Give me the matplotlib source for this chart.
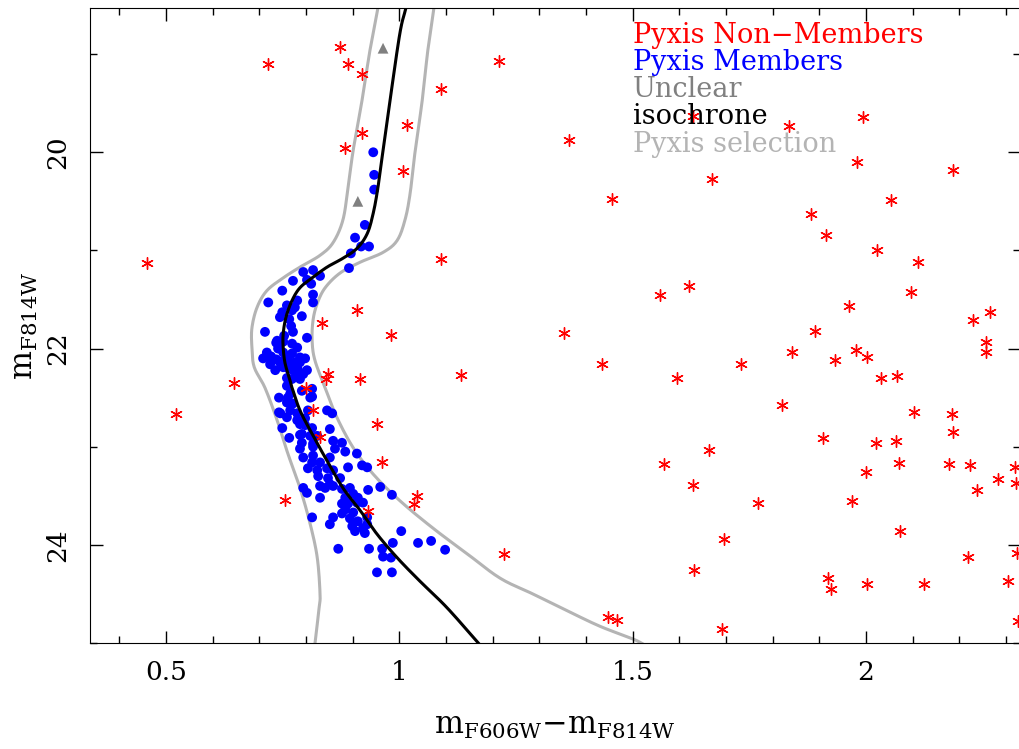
import numpy as np
import matplotlib
matplotlib.use("Agg")
import matplotlib.pyplot as plt
from matplotlib.ticker import MultipleLocator

plt.rcParams['font.family'] = ['DejaVu Serif']
plt.rcParams['mathtext.fontset'] = 'dejavuserif'

# Pyxis members (colour, magnitude)
mem_color = [0.944, 0.946, 0.946, 0.926, 0.905, 0.918, 0.935, 0.896, 0.892,
             0.794, 0.815, 0.830, 0.772, 0.802, 0.811, 0.749, 0.815, 0.719, 0.781,
             0.815, 0.759, 0.776, 0.770, 0.749, 0.791, 0.744, 0.764, 0.768, 0.712,
             0.772, 0.753, 0.802, 0.736, 0.751, 0.770, 0.740, 0.781, 0.716, 0.751,
             0.770, 0.725, 0.787, 0.708, 0.736, 0.749, 0.798, 0.723, 0.766, 0.781,
             0.744, 0.787, 0.734, 0.751, 0.772, 0.794, 0.759, 0.783, 0.759, 0.791,
             0.813, 0.742, 0.766, 0.813, 0.759, 0.772, 0.742, 0.766, 0.781, 0.845,
             0.856, 0.759, 0.781, 0.798, 0.798, 0.749, 0.813, 0.851, 0.787, 0.809,
             0.824, 0.764, 0.791, 0.815, 0.858, 0.877, 0.787, 0.815, 0.862, 0.884,
             0.909, 0.794, 0.815, 0.851,
             0.813, 0.830, 0.804, 0.824, 0.845, 0.858, 0.890, 0.920, 0.931, 0.826,
             0.847, 0.873, 0.851, 0.830, 0.858, 0.794, 0.802, 0.841, 0.877, 0.894,
             0.933, 0.830, 0.884, 0.901, 0.911, 0.877, 0.890, 0.909, 0.884, 0.877,
             0.901, 0.813, 0.858, 0.894, 0.851, 0.911, 0.922,
             0.922, 0.931, 0.899, 0.905, 0.926, 0.931, 0.984, 0.959, 1.004, 0.986,
             1.040, 1.068, 1.098, 0.869, 0.935, 0.963, 0.965, 0.982, 0.952, 0.984,
             0.738, 0.723, 0.761, 0.776, 0.802, 0.783, 0.761, 0.770, 0.787, 0.761,
             0.809, 0.745, 0.804, 0.787, 0.791]
mem_mag = [20.00, 20.23, 20.38, 20.74, 20.87, 20.96, 20.96, 21.03, 21.18,
           21.22, 21.20, 21.26, 21.31, 21.30, 21.34, 21.41, 21.45, 21.53, 21.51,
           21.53, 21.56, 21.58, 21.61, 21.63, 21.67, 21.68, 21.70, 21.77, 21.83,
           21.83, 21.87, 21.89, 21.94, 21.93, 21.95, 22.00, 21.99, 22.04, 22.04,
           22.05, 22.08, 22.09, 22.10, 22.11, 22.13, 22.10, 22.16, 22.16, 22.19,
           22.14, 22.14, 22.22, 22.19, 22.22, 22.26, 22.30, 22.28, 22.38, 22.43,
           22.41, 22.50, 22.46, 22.49, 22.55, 22.56, 22.65, 22.63, 22.66, 22.63,
           22.66, 22.70, 22.73, 22.71, 22.78, 22.81, 22.81, 22.82, 22.88, 22.89,
           22.89, 22.91, 22.96, 22.97, 22.94, 22.96, 23.02, 23.00, 23.02, 23.05,
           23.07, 23.11, 23.09, 23.11,
           23.16, 23.16, 23.22, 23.24, 23.22, 23.24, 23.21, 23.19, 23.21, 23.30,
           23.32, 23.32, 23.38, 23.40, 23.40, 23.42, 23.47, 23.42, 23.43, 23.42,
           23.44, 23.52, 23.52, 23.48, 23.52, 23.58, 23.58, 23.57, 23.64, 23.68,
           23.67, 23.72, 23.72, 23.73, 23.79, 23.76, 23.83,
           23.57, 23.72, 23.81, 23.86, 23.88, 23.79, 23.49, 23.41, 23.86, 23.98,
           23.98, 23.96, 24.05, 24.04, 24.04, 24.04, 24.12, 24.13, 24.28, 24.28,
           21.92, 22.09, 22.10, 22.14, 22.22, 22.22, 22.20, 22.31, 22.31, 22.50,
           22.50, 22.66, 22.63, 22.77, 22.87]

# Pyxis non-members
non_color = [0.873, 0.719, 0.890, 0.920, 1.214, 1.089, 1.016, 0.920, 0.884, 1.008,
             0.459, 1.089, 0.909, 0.834, 0.982, 0.847, 0.843, 0.916, 1.132, 0.646,
             0.521, 0.800, 0.815, 0.952, 0.830, 0.963, 0.755, 1.038, 1.031, 0.933,
             1.224, 1.629, 1.835, 1.994, 1.364, 1.981, 2.187, 1.670, 1.456, 2.054,
             1.882, 1.914, 2.024, 2.112, 1.621, 1.559, 2.097, 1.964, 2.266, 2.229,
             1.353, 1.891, 2.257, 2.257, 1.842, 1.979, 1.934, 2.002, 1.434, 1.732,
             1.595, 2.032, 2.067, 1.820, 2.103, 2.184, 2.187, 1.908, 2.022, 2.064,
             1.664, 1.567, 2.071, 2.178, 2.223, 2.319, 2.000, 2.283, 2.321, 1.629,
             2.238, 1.769, 1.970, 2.073, 1.696, 2.324, 2.219, 1.631, 1.919, 1.925,
             2.002, 2.124, 2.304, 2.326, 1.447, 1.467, 1.692]
non_mag = [18.93, 19.10, 19.10, 19.20, 19.07, 19.36, 19.72, 19.80, 19.96, 20.19,
           21.13, 21.09, 21.61, 21.74, 21.86, 22.26, 22.31, 22.31, 22.27, 22.35,
           22.67, 22.40, 22.63, 22.77, 22.90, 23.16, 23.54, 23.50, 23.58, 23.66,
           24.09, 19.63, 19.73, 19.64, 19.88, 20.10, 20.18, 20.27, 20.48, 20.49,
           20.63, 20.84, 21.00, 21.12, 21.36, 21.45, 21.42, 21.57, 21.63, 21.71,
           21.84, 21.82, 21.93, 22.04, 22.03, 22.01, 22.12, 22.09, 22.16, 22.16,
           22.30, 22.30, 22.28, 22.58, 22.65, 22.67, 22.85, 22.91, 22.96, 22.94,
           23.03, 23.18, 23.17, 23.18, 23.19, 23.21, 23.26, 23.33, 23.37, 23.39,
           23.44, 23.57, 23.55, 23.86, 23.94, 24.08, 24.12, 24.26, 24.34, 24.45,
           24.40, 24.40, 24.37, 24.78, 24.74, 24.77, 24.86]

# unclear stars
unc_color = [0.965, 0.911]
unc_mag = [18.94, 20.50]

# isochrone
iso_color = [1.014, 1.001, 0.980, 0.965, 0.954, 0.944, 0.931, 0.909, 0.879, 0.845,
             0.813, 0.787, 0.770, 0.757, 0.751, 0.751, 0.755, 0.766, 0.770, 0.787,
             0.813, 0.841, 0.879, 0.916, 0.952, 0.995, 1.044, 1.102, 1.171]
iso_mag = [18.53, 18.79, 19.47, 19.98, 20.36, 20.62, 20.83, 20.98, 21.08, 21.17,
           21.28, 21.38, 21.51, 21.68, 21.85, 21.99, 22.15, 22.33, 22.40, 22.63,
           22.87, 23.11, 23.42, 23.65, 23.89, 24.13, 24.37, 24.64, 25.01]

# selection boundaries
sel_left_color = [0.954, 0.937, 0.920, 0.901, 0.890, 0.879, 0.858, 0.830, 0.787, 0.751,
                  0.716, 0.695, 0.684, 0.684, 0.689, 0.712, 0.738, 0.761, 0.787, 0.809,
                  0.824, 0.830, 0.828, 0.819]
sel_left_mag = [18.53, 18.96, 19.47, 19.98, 20.36, 20.69, 20.92, 21.05, 21.17, 21.28,
                21.41, 21.58, 21.79, 21.99, 22.19, 22.40, 22.73, 23.07, 23.42, 23.79,
                24.13, 24.50, 24.64, 25.01]
sel_right_color = [1.074, 1.061, 1.049, 1.034, 1.023, 1.012, 0.995, 0.965, 0.916, 0.873,
                   0.841, 0.824, 0.815, 0.813, 0.819, 0.841, 0.866, 0.901, 0.944, 1.001,
                   1.072, 1.145, 1.216, 1.286, 1.359, 1.430, 1.501, 1.522]
sel_right_mag = [18.53, 18.96, 19.47, 19.98, 20.42, 20.69, 20.90, 21.02, 21.12, 21.23,
                 21.38, 21.54, 21.71, 21.92, 22.12, 22.40, 22.70, 23.01, 23.28, 23.55,
                 23.83, 24.09, 24.34, 24.50, 24.67, 24.83, 24.96, 25.01]

labels = ["Pyxis Non\u2212Members", "Pyxis Members", "Unclear", "isochrone", "Pyxis selection"]
label_colors = ["#ff0000", "#0000ff", "#808080", "#000000", "#b4b4b4"]


def smooth(xs, ys, n=12):
    # catmull-rom through the read-off points
    p = np.column_stack([xs, ys]).astype(float)
    p = np.vstack([2 * p[0] - p[1], p, 2 * p[-1] - p[-2]])
    out = []
    t = np.linspace(0, 1, n, endpoint=False)[:, None]
    for i in range(1, len(p) - 2):
        p0, p1, p2, p3 = p[i - 1], p[i], p[i + 1], p[i + 2]
        seg = 0.5 * ((2 * p1) + (-p0 + p2) * t + (2 * p0 - 5 * p1 + 4 * p2 - p3) * t ** 2
                     + (-p0 + 3 * p1 - 3 * p2 + p3) * t ** 3)
        out.append(seg)
    out.append(p[-2][None, :])
    out = np.vstack(out)
    return out[:, 0], out[:, 1]


fig = plt.figure(figsize=(10.19, 7.49), dpi=100)
ax = fig.add_axes([90 / 1019, 1 - 643 / 749, 930 / 1019, 635 / 749])

for cx, cy in [(sel_left_color, sel_left_mag), (sel_right_color, sel_right_mag)]:
    sx, sy = smooth(cx, cy)
    ax.plot(sx, sy, color="#b4b4b4", lw=2.2, zorder=1)
ax.scatter(mem_color, mem_mag, s=50, color="#0000ff", edgecolors="none", zorder=2)
ax.scatter(non_color, non_mag, s=70, marker=(6, 2, 0), color="#ff0000", linewidths=1.0, zorder=3)
ax.scatter(unc_color, unc_mag, s=60, marker="^", color="#808080", edgecolors="none", zorder=3)
ix, iy = smooth(iso_color, iso_mag)
ax.plot(ix, iy, color="black", lw=2.2, zorder=4)

ax.set_xlim(0.337, 2.330)
ax.set_ylim(25.0, 18.53)

ax.xaxis.set_major_locator(MultipleLocator(0.5))
ax.xaxis.set_minor_locator(MultipleLocator(0.1))
ax.yaxis.set_major_locator(MultipleLocator(2))
ax.yaxis.set_minor_locator(MultipleLocator(1))
ax.tick_params(which="both", direction="in", top=True, right=True, width=1.0)
ax.tick_params(which="major", length=9, labelsize=19)
ax.tick_params(axis="x", which="major", pad=12)
ax.tick_params(axis="y", which="major", pad=14)
ax.tick_params(which="minor", length=5)
ax.set_xticks([0.5, 1, 1.5, 2])
ax.set_xticklabels(["0.5", "1", "1.5", "2"])
for t in ax.get_yticklabels():
    t.set_rotation(90)
    t.set_va("center")

ax.set_xlabel(r"$\mathregular{m_{F606W}{-}m_{F814W}}$", fontsize=22, labelpad=18)
ax.set_ylabel(r"$\mathregular{m_{F814W}}$", fontsize=22, labelpad=4)

for i, (lab, c) in enumerate(zip(labels, label_colors)):
    ax.text(0.584, 0.945 - i * 0.0428, lab, color=c, fontsize=19.5,
            transform=ax.transAxes, va="baseline", ha="left", zorder=5)

fig.savefig("out.png", dpi=100)
